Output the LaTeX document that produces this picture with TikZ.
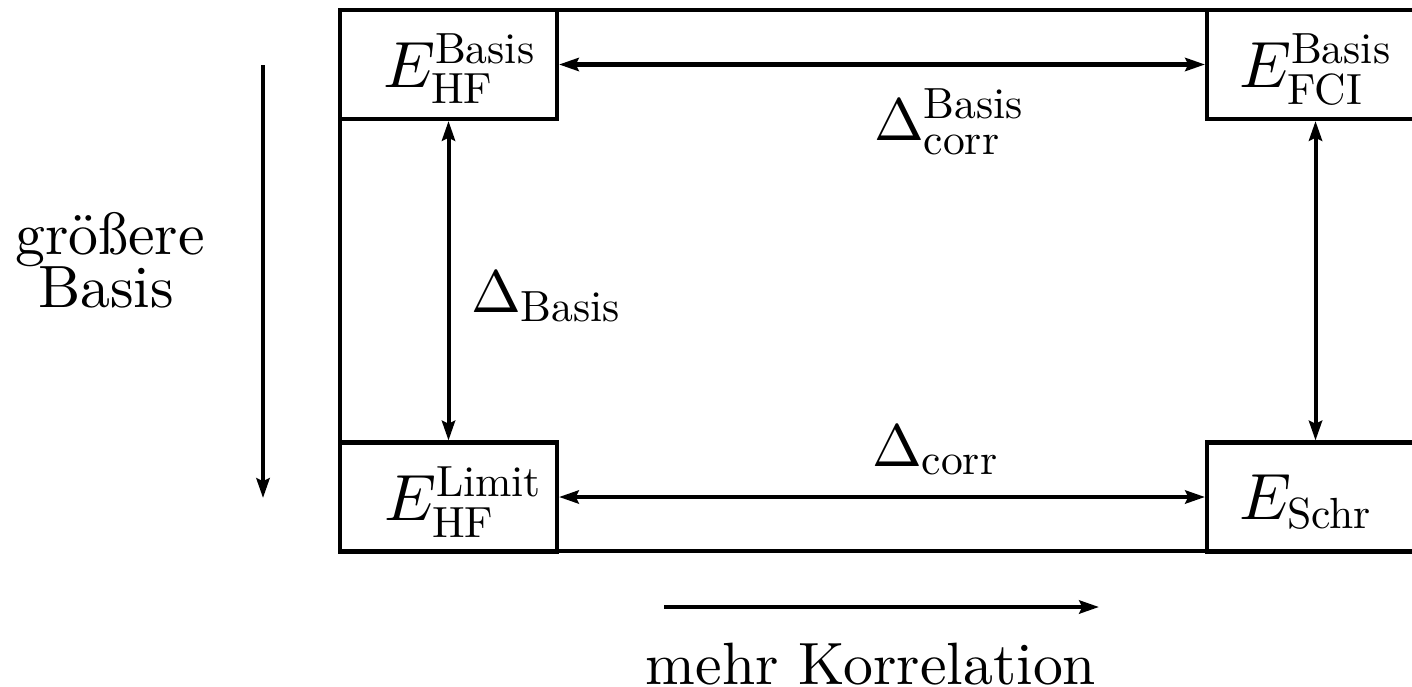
\documentclass[tikz,border=0pt]{standalone}
\usepackage{amsmath}
\usepackage{fontspec}
\DeclareMathSizes{10}{10}{7.3}{5}
\DeclareMathSizes{11}{11}{7.3}{5}
\newfontfamily\lmten{lmroman10-regular.otf}
\newcommand{\st}[1]{\text{\lmten #1}}
\usetikzlibrary{arrows.meta}
\begin{document}
\begin{tikzpicture}[x=0.1674pt,y=-0.1674pt, line width=0.67pt,
  font=\fontsize{10}{12}\selectfont,
  box/.style={draw, minimum width=36.33pt, minimum height=18.25pt, inner sep=0pt},
  darr/.style={{Stealth[length=3.3pt,width=2.2pt,inset=0.5pt]}-{Stealth[length=3.3pt,width=2.2pt,inset=0.5pt]}},
  sarr/.style={-{Stealth[length=3.3pt,width=2.2pt,inset=0.5pt]}},
  lbl/.style={inner sep=0pt, anchor=base west},
  elbl/.style={lbl, font=\fontsize{11}{13}\selectfont},
  txt/.style={inner sep=0pt, anchor=base}]
\useasboundingbox (0,0) rectangle (1412,686);
\draw (340,10) rectangle (1424,551);
% boxes
\node[box] (hfb) at (448.5,64.5) {};
\node[box] (fcib) at (1315.5,64.5) {};
\node[box] (hfl) at (448.5,497) {};
\node[box] (schr) at (1315.5,497) {};
% box contents
\node[elbl] (thfb) at (381,87) {$E^{\st{Basis}}_{\st{HF}}$};
\node[elbl] (tfcib) at (1237,87) {$E^{\st{Basis}}_{\st{FCI}}$};
\node[elbl] (thfl) at (382,520) {$E^{\st{Limit}}_{\st{HF}}$};
\node[elbl] (tschr) at (1237,519) {$E_{\st{Schr}}$};
% connectors
\draw[darr] (hfb.east) -- (fcib.west);
\draw[darr] (hfl.east) -- (schr.west);
\draw[darr] (hfb.south) -- (hfl.north);
\draw[darr] (fcib.south) -- (schr.north);
% labels
\node[lbl] (dcb) at (872,140) {$\Delta^{\st{Basis}}_{\st{corr}}$};
\node[lbl] (dc) at (870,466) {$\Delta_{\st{corr}}$};
\node[lbl] (db) at (469,312) {$\Delta_{\st{Basis}}$};
% left arrow
\coordinate (l1) at (263,65);
\coordinate (l2) at (263,498);
\draw[sarr] (l1) -- (l2);
\node[txt] (g1) at (110,254) {größere};
\node[txt] (g2) at (106,307) {Basis};
% bottom arrow
\coordinate (b1) at (664,607);
\coordinate (b2) at (1099,607);
\draw[sarr] (b1) -- (b2);
\node[txt] (mk) at (871,684) {mehr Korrelation};
\end{tikzpicture}
\end{document}
